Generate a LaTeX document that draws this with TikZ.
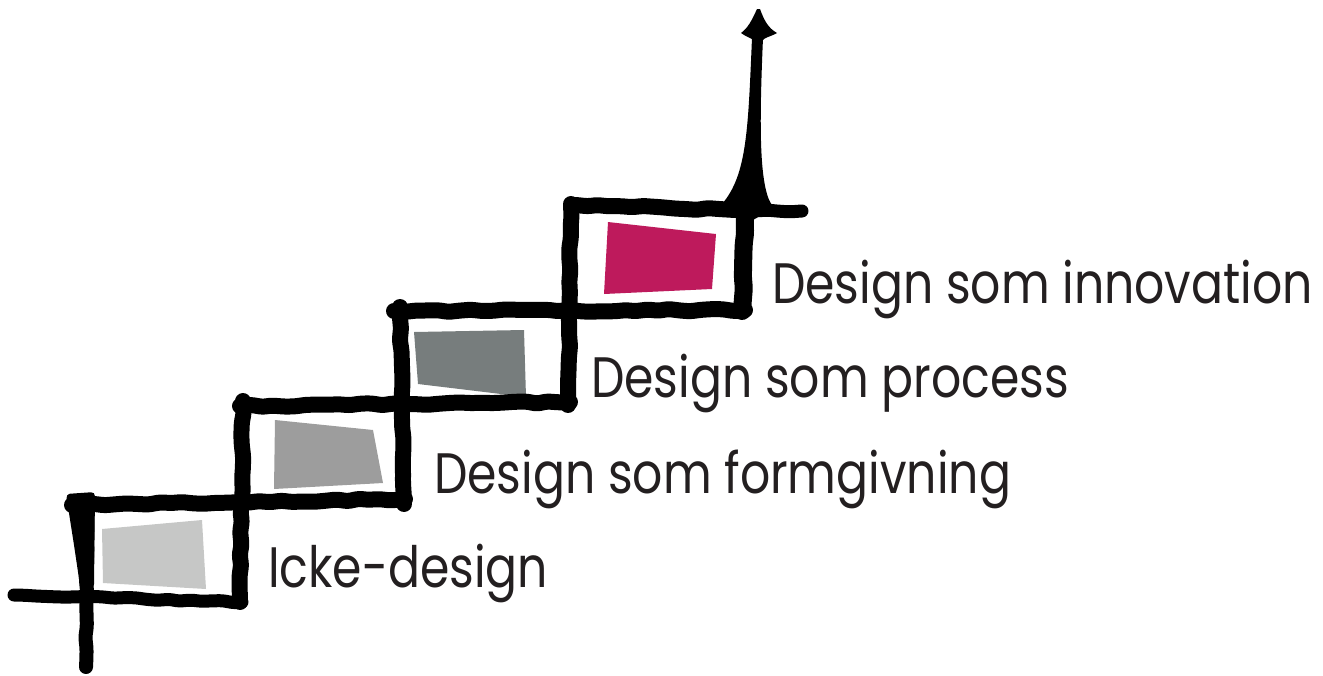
\documentclass[tikz,border=0pt]{standalone}
\usepackage{fontspec}
\newfontfamily\stepfont[FakeStretch=0.83]{Poppins}
\usepackage{xcolor}
\definecolor{ink}{HTML}{231F20}
\definecolor{stepone}{HTML}{C6C7C6}
\definecolor{steptwo}{HTML}{9D9D9D}
\definecolor{stepthree}{HTML}{777D7D}
\definecolor{stepfour}{HTML}{BE1A5C}
\usepackage{tikz}
\usetikzlibrary{decorations.pathmorphing}

\begin{document}
\begin{tikzpicture}[x=1pt, y=-1pt,
    stair/.style={line width=16pt, line cap=round, line join=round, black,
      decorate, decoration={random steps, segment length=11pt, amplitude=1.2pt},
      rounded corners=3pt},
    blob/.style={black, rounded corners=4pt},
    steptext/.style={anchor=base west, inner sep=0pt, text=ink,
      font=\stepfont\fontsize{57}{60}\selectfont}]
    \pgfmathsetseed{11}
    \useasboundingbox (0,0) rectangle (1323,675);

    % Coloured panels, one per step
    \fill[stepone]   (102,529) -- (202,520) -- (206,589) -- (103,583) -- cycle;
    \fill[steptwo]   (275,420) -- (373,430) -- (383,483) -- (274,489) -- cycle;
    \fill[stepthree] (414,332) -- (524,330) -- (526,397) -- (418,384) -- cycle;
    \fill[stepfour]  (608,222) -- (716,234) -- (712,289) -- (604,294) -- cycle;

    % Ground line and the post at the foot
    \draw[stair, line width=13pt] (14,595) -- (242,602);
    \draw[stair, line width=14pt] (87,505) -- (86,667);
    \fill[blob] (66,494) -- (95,492) -- (94,588) -- (81,592) -- (74,545) -- cycle;

    % Treads
    \draw[stair] (72,505) -- (405,499);
    \draw[stair] (240,406) -- (570,402);
    \draw[stair] (394,311) -- (745,310);
    \draw[stair] (576,205) -- (735,210);
    \draw[stair, line width=13pt] (735,210) -- (802,211);

    % Risers
    \draw[stair] (243,401) -- (240,602);
    \draw[stair] (400,307) -- (404,504);
    \draw[stair] (571,204) -- (568,405);
    \draw[stair, line width=18pt] (746,210) -- (742,311);

    % Arrow shaft, flaring into a knot on the top tread
    \fill (752,38) .. controls (748,130) and (747,175) .. (722,204)
      -- (746,224)
      -- (774,208) .. controls (759,192) and (759,130) .. (763,38) -- cycle;
    % Arrow head
    \fill (757,9) .. controls (752,20) and (748,28) .. (741,33)
      .. controls (748,38) and (752,38) .. (754,41) -- (762,41)
      .. controls (765,37) and (770,37) .. (777,33)
      .. controls (768,28) and (764,20) .. (760,9) -- cycle;

    % Step names
    \node[steptext] (ickedesign) at (268,587) {Icke-design};
    \node[steptext] (formgivning) at (434,493) {Design som formgivning};
    \node[steptext] (process) at (591,397) {Design som process};
    \node[steptext] (innovation) at (772,303) {Design som innovation};
\end{tikzpicture}
\end{document}
